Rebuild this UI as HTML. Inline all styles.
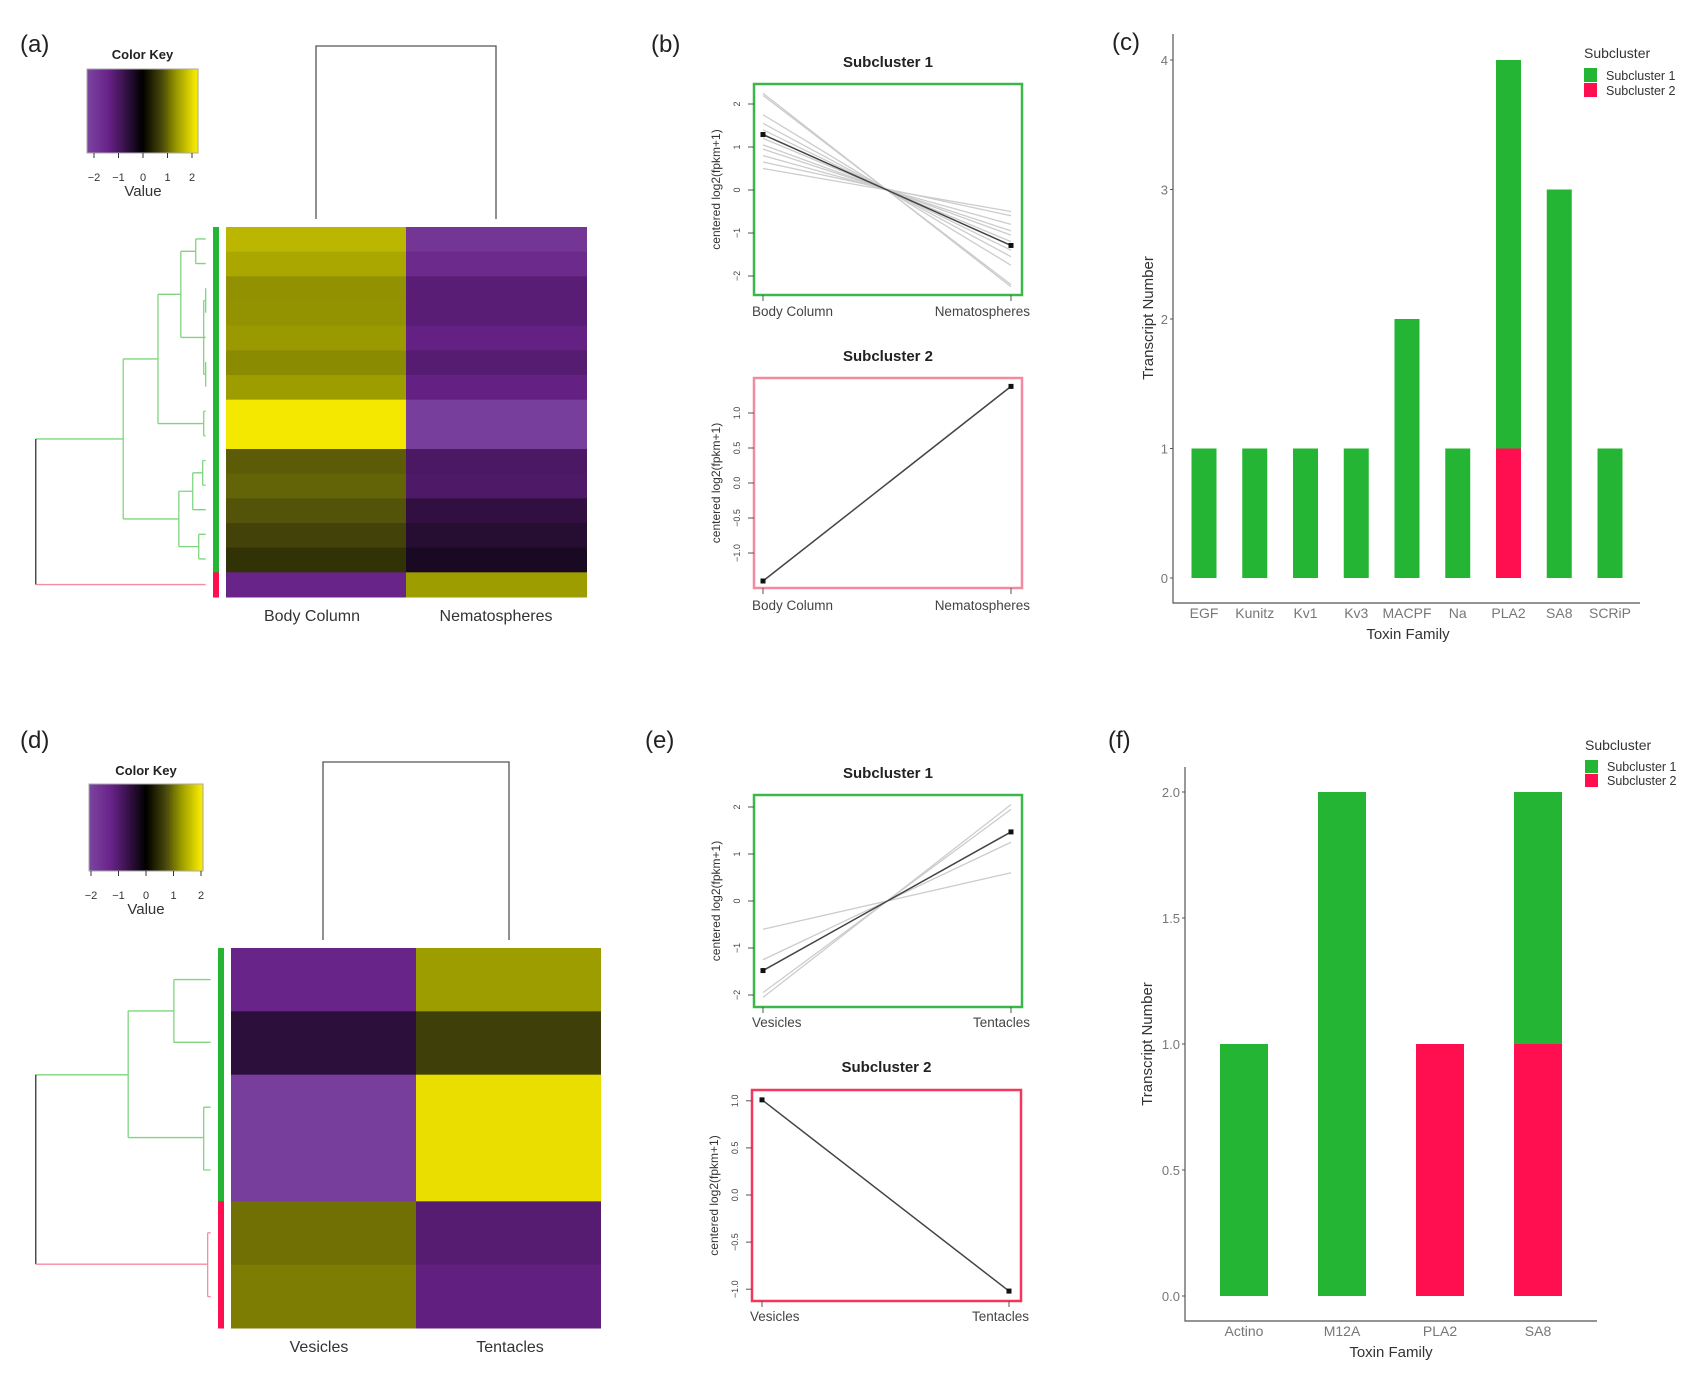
<!DOCTYPE html>
<html><head><meta charset="utf-8"><style>
html,body{margin:0;padding:0;background:#fff;}
svg{display:block;font-family:"Liberation Sans",sans-serif;}
</style></head><body>
<svg id="fig" xmlns="http://www.w3.org/2000/svg" width="1700" height="1373" viewBox="0 0 1700 1373">
<rect x="0" y="0" width="1700" height="1373" fill="#fff"/>
<g font-size="24" fill="#222">
<text x="20" y="52">(a)</text>
<text x="651" y="52">(b)</text>
<text x="1112" y="50">(c)</text>
<text x="20" y="748">(d)</text>
<text x="645" y="748">(e)</text>
<text x="1108" y="748">(f)</text>
</g>
<g transform="scale(0.9936 1.0256)" fill="none" stroke-width="1.3">
<path stroke="#7fd57f" d="M36,428H124M124,350V506M124,350H159M159,287V413M159,287H182M182,245V329M182,245H197M197,233V257M197,233H207M197,257H207M182,329H205M205,293V365M205,293H207M207,281V305M205,329H207M205,365H207M207,353V377M159,413H205M205,401V425M205,401H207M205,425H207M124,506H180M180,479V533M180,479H194M194,461V497M194,461H204M204,449V473M204,449H207M204,473H207M194,497H207M180,533H200M200,521V545M200,521H207M200,545H207"/>
<path stroke="#333" d="M36,428V570"/>
<path stroke="#f48ca4" d="M36,570H207"/>
</g>
<path fill="none" stroke="#555" stroke-width="1.3" d="M316,219V46H496V219"/>
<g transform="translate(0 720) scale(0.9936 1.0465) translate(0 -720)" fill="none" stroke-width="1.3">
<path stroke="#7fd57f" d="M36,1059H129M129,998V1119M129,998H175M175,968V1028M175,968H212M175,1028H212M129,1119H205M205,1090V1150M205,1090H212M205,1150H212"/>
<path stroke="#333" d="M36,1059V1240"/>
<path stroke="#f48ca4" d="M36,1240H209M209,1210V1271M209,1210H212M209,1271H212"/>
</g>
<path fill="none" stroke="#555" stroke-width="1.3" d="M323,940V762H509V940"/>
</svg>
<script>
// ---- heatmap (a) data ----
const hmA_cols = ["Body Column", "Nematospheres"];
const hmA_body = [1.7, 1.55, 1.35, 1.36, 1.42, 1.3, 1.45, 2.2, 2.2, 0.95, 1.0, 0.88, 0.73, 0.55, -1.45];
const hmA_nema = [-1.9, -1.6, -1.2, -1.2, -1.35, -1.15, -1.35, -2.1, -2.1, -1.0, -1.05, -0.65, -0.5, -0.35, 1.45];
const hmA_group = [1,1,1,1,1,1,1,1,1,1,1,1,1,1,2];
// ---- heatmap (d) data ----
const hmD_cols = ["Vesicles", "Tentacles"];
const hmD_ves = [-1.45, -0.6, -2.1, -2.1, 1.1, 1.2];
const hmD_ten = [1.45, 0.7, 2.1, 2.1, -1.15, -1.3];
const hmD_group = [1,1,1,1,2,2];
// ---- color key ticks ----
const keyTicks = [-2, -1, 0, 1, 2];
// ---- line plots ----
const b1_cats = ["Body Column", "Nematospheres"];
const b1_greyStart = [2.25, 2.2, 1.75, 1.55, 1.4, 1.2, 1.05, 0.95, 0.8, 0.65, 0.5];
const b1_greyEnd = [-2.25, -2.2, -1.75, -1.55, -1.4, -1.2, -1.05, -0.95, -0.8, -0.6, -0.5];
const b1_mean = [1.29, -1.29];
const b1_ticks = [2, 1, 0, -1, -2];
const b2_cats = ["Body Column", "Nematospheres"];
const b2_mean = [-1.4, 1.38];
const b2_ticks = [1.0, 0.5, 0.0, -0.5, -1.0];
const e1_cats = ["Vesicles", "Tentacles"];
const e1_greyStart = [-0.6, -1.25, -1.95, -2.05];
const e1_greyEnd = [0.6, 1.25, 1.95, 2.05];
const e1_mean = [-1.48, 1.47];
const e1_ticks = [2, 1, 0, -1, -2];
const e2_cats = ["Vesicles", "Tentacles"];
const e2_mean = [1.01, -1.02];
const e2_ticks = [1.0, 0.5, 0.0, -0.5, -1.0];
// ---- bar charts ----
const c_cats = ["EGF", "Kunitz", "Kv1", "Kv3", "MACPF", "Na", "PLA2", "SA8", "SCRiP"];
const c_sub1 = [1, 1, 1, 1, 2, 1, 3, 3, 1];
const c_sub2 = [0, 0, 0, 0, 0, 0, 1, 0, 0];
const c_ticks = [0, 1, 2, 3, 4];
const f_cats = ["Actino", "M12A", "PLA2", "SA8"];
const f_sub1 = [1, 2, 0, 1];
const f_sub2 = [0, 0, 1, 1];
const f_ticks = [0.0, 0.5, 1.0, 1.5, 2.0];

const NS = "http://www.w3.org/2000/svg";
const svg = document.getElementById("fig");
function mk(tag, a, parent) {
  const e = document.createElementNS(NS, tag);
  for (const k in a) e.setAttribute(k, a[k]);
  (parent || svg).appendChild(e);
  return e;
}
const stops = [[-2.3,[124,70,160]],[-1.4,[104,34,136]],[-0.8,[60,20,80]],[0,[0,0,0]],[0.8,[72,72,10]],[1.4,[152,152,0]],[2.2,[245,232,0]],[2.5,[245,232,0]]];
function heatColor(v) {
  if (v <= stops[0][0]) v = stops[0][0];
  for (let i = 0; i < stops.length - 1; i++) {
    const [a, ca] = stops[i], [b, cb] = stops[i+1];
    if (v <= b) {
      const t = (v - a) / (b - a);
      return "rgb(" + ca.map((c, j) => Math.round(c + (cb[j] - c) * t)).join(",") + ")";
    }
  }
  return "rgb(245,232,0)";
}
const GREEN = "#25b535", RED = "#ff0f50";

function colorKey(x0, x1, y0, y1, tx0, tx1, titleY, tickY, valY) {
  const g = mk("g", {});
  
  
  const n = 60, w = (x1 - x0) / n;
  for (let i = 0; i < n; i++) {
    const v = -2.3 + 4.6 * (i + 0.5) / n;
    const r = mk("rect", {x: x0 + i * w, y: y0, width: w + 0.6, height: y1 - y0, fill: heatColor(v)}, g);
    
    
  }
  const bd = mk("rect", {x: x0, y: y0, width: x1 - x0, height: y1 - y0, fill: "none", stroke: "#aaa"}, g);
  
  
  const t = mk("text", {x: (x0 + x1) / 2, y: titleY, "text-anchor": "middle", "font-size": 13, "font-weight": "bold", fill: "#222"}, g);
  t.textContent = "Color Key";
  
  
  keyTicks.forEach(v => {
    const x = tx0 + (v + 2) / 4 * (tx1 - tx0);
    const l = mk("line", {x1: x, x2: x, y1: y1, y2: y1 + 5, stroke: "#333"}, g);
    
    
    const tl = mk("text", {x: x, y: tickY, "text-anchor": "middle", "font-size": 11, fill: "#333"}, g);
    tl.textContent = v < 0 ? "\u2212" + Math.abs(v) : String(v);
    
    
  });
  const vl = mk("text", {x: (tx0 + tx1) / 2, y: valY, "text-anchor": "middle", "font-size": 15, fill: "#333"}, g);
  vl.textContent = "Value";
  
  
}

function heatmap(cols, c0, c1, groups, x0, xm, x1, y0, y1, barX, labY, labXs, name) {
  const g = mk("g", {});
  
  
  const rh = (y1 - y0) / c0.length;
  c0.forEach((v, i) => {
    const r1 = mk("rect", {x: x0, y: y0 + i * rh, width: xm - x0, height: rh + 0.5, fill: heatColor(v)}, g);
    
    
    const r2 = mk("rect", {x: xm, y: y0 + i * rh, width: x1 - xm, height: rh + 0.5, fill: heatColor(c1[i])}, g);
    
    
    const sb = mk("rect", {x: barX, y: y0 + i * rh, width: 6, height: rh + 0.5, fill: groups[i] === 1 ? GREEN : RED}, g);
    
    
  });
  cols.forEach((c, i) => {
    const t = mk("text", {x: labXs[i], y: labY, "text-anchor": "middle", "font-size": 16, fill: "#333"}, g);
    t.textContent = c;
    
    
  });
}

function linePlot(o) {
  const g = mk("g", {});
  
  
  const y = v => o.zero - v * o.k;
  const xs = [o.px0, o.px1];
  const t = mk("text", {x: (o.bx0 + o.bx1) / 2, y: o.titleY, "text-anchor": "middle", "font-size": 15, "font-weight": "bold", fill: "#222"}, g);
  t.textContent = o.title;
  
  
  (o.gs || []).forEach((s, i) => {
    const l = mk("line", {x1: xs[0], y1: y(s), x2: xs[1], y2: y(o.ge[i]), stroke: "#cccccc", "stroke-width": 1.3}, g);
    
    
  });
  const ml = mk("line", {x1: xs[0], y1: y(o.mean[0]), x2: xs[1], y2: y(o.mean[1]), stroke: "#444", "stroke-width": 1.5}, g);
  
  
  o.mean.forEach((m, i) => {
    const p = mk("rect", {x: xs[i] - 2.5, y: y(m) - 2.5, width: 5, height: 5, fill: "#111"}, g);
    
    
  });
  const box = mk("rect", {x: o.bx0, y: o.by0, width: o.bx1 - o.bx0, height: o.by1 - o.by0, fill: "none", stroke: o.color, "stroke-width": 2.5}, g);
  
  
  o.ticks.forEach(v => {
    const tk = mk("line", {x1: o.bx0 - 6, x2: o.bx0, y1: y(v), y2: y(v), stroke: "#555"}, g);
    
    
    const tl = mk("text", {x: o.bx0 - 14, y: y(v), "text-anchor": "middle", "font-size": 9, fill: "#444", transform: "rotate(-90 " + (o.bx0 - 14) + " " + y(v) + ")"}, g);
    tl.textContent = o.dec ? v.toFixed(1).replace("-", "\u2212") : String(v).replace("-", "\u2212");
    
    
  });
  const yt = mk("text", {x: 0, y: 0, "text-anchor": "middle", "font-size": 12, fill: "#333", transform: "translate(" + (o.bx0 - 34) + "," + ((o.by0 + o.by1) / 2) + ") rotate(-90)"}, g);
  yt.textContent = "centered log2(fpkm+1)";
  
  
  o.cats.forEach((c, i) => {
    const tk = mk("line", {x1: xs[i], x2: xs[i], y1: o.by1, y2: o.by1 + 6, stroke: "#555"}, g);
    
    
    const tl = mk("text", {x: i === 0 ? o.bx0 - 2 : o.bx1 + 8, y: o.labY, "text-anchor": i === 0 ? "start" : "end", "font-size": 13.5, fill: "#444"}, g);
    tl.textContent = c;
    
    
  });
}

function barChart(o) {
  const g = mk("g", {});
  
  
  const y = v => o.zero - v * o.k;
  o.cats.forEach((c, i) => {
    const cx = o.cx0 + i * o.step;
    if (o.s2[i] > 0) {
      const r = mk("rect", {x: cx - o.bw / 2, y: y(o.s2[i]), width: o.bw, height: y(0) - y(o.s2[i]), fill: RED}, g);
      
      
    }
    if (o.s1[i] > 0) {
      const r = mk("rect", {x: cx - o.bw / 2, y: y(o.s2[i] + o.s1[i]), width: o.bw, height: y(o.s2[i]) - y(o.s2[i] + o.s1[i]), fill: GREEN}, g);
      
      
    }
    const tl = mk("text", {x: cx, y: o.labY, "text-anchor": "middle", "font-size": 14, fill: "#777"}, g);
    tl.textContent = c;
    
    
  });
  const ax = mk("path", {d: "M" + o.ax + "," + o.top + "V" + o.bot + "H" + o.right, fill: "none", stroke: "#555", "stroke-width": 1.2}, g);
  
  
  o.ticks.forEach(v => {
    const tk = mk("line", {x1: o.ax - 3, x2: o.ax, y1: y(v), y2: y(v), stroke: "#555"}, g);
    
    
    const tl = mk("text", {x: o.ax - 5, y: y(v) + 5, "text-anchor": "end", "font-size": 13, fill: "#777"}, g);
    tl.textContent = o.dec ? v.toFixed(1) : String(v);
    
    
  });
  const xt = mk("text", {x: o.xtX, y: o.xtY, "text-anchor": "middle", "font-size": 15, fill: "#333"}, g);
  xt.textContent = "Toxin Family";
  
  
  const yt = mk("text", {x: 0, y: 0, "text-anchor": "middle", "font-size": 15, fill: "#333", transform: "translate(" + o.ytX + "," + o.ytY + ") rotate(-90)"}, g);
  yt.textContent = "Transcript Number";
  
  
  const lg = mk("g", {}, g);
  
  
  const lt = mk("text", {x: o.lx, y: o.ly, "font-size": 14, fill: "#333"}, lg);
  lt.textContent = "Subcluster";
  
  
  [["Subcluster 1", GREEN], ["Subcluster 2", RED]].forEach((e, i) => {
    const sy = o.ly + 10 + i * o.lstep;
    const sw = mk("rect", {x: o.lx, y: sy, width: 13, height: o.lstep - 1, fill: e[1]}, lg);
    
    
    const st = mk("text", {x: o.lx + 22, y: sy + o.lstep - 3, "font-size": 12.5, fill: "#333"}, lg);
    st.textContent = e[0];
    
    
  });
}

colorKey(87, 198, 69, 153, 94, 192, 59, 181, 196);
heatmap(hmA_cols, hmA_body, hmA_nema, hmA_group, 226, 406, 587, 227, 597, 213, 621, [312, 496], "heatmap-a");
colorKey(89, 203, 784, 871, 91, 201, 775, 899, 914);
heatmap(hmD_cols, hmD_ves, hmD_ten, hmD_group, 231, 416, 601, 948, 1328, 218, 1352, [319, 510], "heatmap-d");

linePlot({name: "lineplot-b-subcluster-1", title: "Subcluster 1", titleY: 67, bx0: 754, bx1: 1022, by0: 84, by1: 295, px0: 763, px1: 1011, zero: 190, k: 43, gs: b1_greyStart, ge: b1_greyEnd, mean: b1_mean, ticks: b1_ticks, cats: b1_cats, color: "#3cb84b", labY: 316, dec: false});
linePlot({name: "lineplot-b-subcluster-2", title: "Subcluster 2", titleY: 361, bx0: 754, bx1: 1022, by0: 378, by1: 588, px0: 763, px1: 1011, zero: 483, k: 70, mean: b2_mean, ticks: b2_ticks, cats: b2_cats, color: "#f28aa0", labY: 610, dec: true});
linePlot({name: "lineplot-e-subcluster-1", title: "Subcluster 1", titleY: 778, bx0: 754, bx1: 1022, by0: 795, by1: 1007, px0: 763, px1: 1011, zero: 901, k: 47, gs: e1_greyStart, ge: e1_greyEnd, mean: e1_mean, ticks: e1_ticks, cats: e1_cats, color: "#3cb84b", labY: 1027, dec: false});
linePlot({name: "lineplot-e-subcluster-2", title: "Subcluster 2", titleY: 1072, bx0: 752, bx1: 1021, by0: 1090, by1: 1301, px0: 762, px1: 1009, zero: 1195, k: 94.2, mean: e2_mean, ticks: e2_ticks, cats: e2_cats, color: "#f2365c", labY: 1321, dec: true});

barChart({name: "barchart-c", cats: c_cats, s1: c_sub1, s2: c_sub2, ticks: c_ticks, zero: 578, k: 129.5, cx0: 1204, step: 50.75, bw: 25, ax: 1173, top: 34, bot: 603, right: 1640, labY: 618, xtX: 1408, xtY: 639, ytX: 1153, ytY: 318, lx: 1584, ly: 58, lstep: 15, dec: false});
barChart({name: "barchart-f", cats: f_cats, s1: f_sub1, s2: f_sub2, ticks: f_ticks, zero: 1296, k: 252, cx0: 1244, step: 98, bw: 48, ax: 1185, top: 767, bot: 1321, right: 1597, labY: 1336, xtX: 1391, xtY: 1357, ytX: 1152, ytY: 1044, lx: 1585, ly: 750, lstep: 14, dec: true});
</script>
</body></html>
